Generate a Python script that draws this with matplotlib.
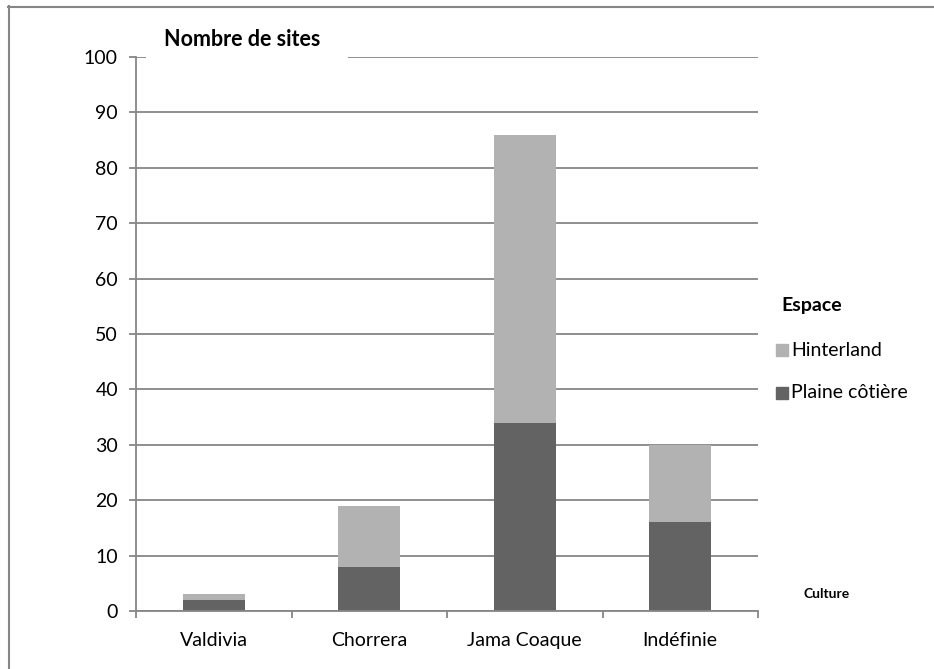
import matplotlib.pyplot as plt
from matplotlib.lines import Line2D
from matplotlib.patches import Rectangle

categories = ['Valdivia', 'Chorrera', 'Jama Coaque', 'Indéfinie']
plaine = [2, 8, 34, 16]
hinterland = [1, 11, 52, 14]
series_names = ['Hinterland', 'Plaine côtière']
y_ticks = list(range(0, 101, 10))

GRID = '#868686'
DARK = '#636363'
LIGHT = '#b2b2b2'

plt.rcParams['font.family'] = ['Lato', 'DejaVu Sans']

W, H = 934, 669
fig = plt.figure(figsize=(W / 100, H / 100), dpi=100)

# axes placement in pixels: left 136, right 758, top 57, bottom 611
ax = fig.add_axes([136 / W, 1 - 611 / H, (758 - 136) / W, (611 - 57) / H])

x = range(len(categories))
ax.bar(x, plaine, width=0.4, color=DARK, zorder=3)
ax.bar(x, hinterland, width=0.4, bottom=plaine, color=LIGHT, zorder=3)

ax.set_xlim(-0.5, len(categories) - 0.5)
ax.set_ylim(0, 100)
ax.set_yticks(y_ticks)
ax.yaxis.grid(True, color=GRID, linewidth=1.3, zorder=0)

ax.set_xticks(list(x))
ax.set_xticklabels(categories, fontsize=14)
ax.set_xticks([i - 0.5 for i in range(len(categories) + 1)], minor=True)
ax.tick_params(axis='x', which='major', length=0, pad=15)
ax.tick_params(axis='x', which='minor', length=5, width=1.3, color=GRID, direction='out')
ax.tick_params(axis='y', length=5, width=1.3, color=GRID, labelsize=14, pad=8)

for side in ['top', 'right']:
    ax.spines[side].set_visible(False)
for side in ['left', 'bottom']:
    ax.spines[side].set_color(GRID)
    ax.spines[side].set_linewidth(1.3)
    ax.spines[side].set_zorder(4)

# white block behind the title, hiding part of the top gridline
fig.add_artist(Rectangle((146 / W, 1 - 64 / H), (348 - 146) / W, 44 / H,
                         facecolor='white', edgecolor='none',
                         transform=fig.transFigure, zorder=5))
fig.text(164 / W, 1 - 40 / H, 'Nombre de sites', fontsize=15.5, fontweight='bold',
         ha='left', va='center', zorder=6)

# axis name at the lower right
fig.text(804 / W, 1 - 594 / H, 'Culture', fontsize=10, fontweight='bold',
         ha='left', va='center')

# legend
fig.text(781 / W, 1 - 306 / H, 'Espace', fontsize=14, fontweight='bold',
         ha='left', va='center')
for i, (name, c) in enumerate(zip(series_names, (LIGHT, DARK))):
    yy = 1 - (350 + 43 * i) / H
    fig.add_artist(Line2D([782 / W], [yy], marker='s', linestyle='none', markersize=8,
                          markerfacecolor=c, markeredgecolor=c,
                          transform=fig.transFigure))
    fig.text(791 / W, yy, name, fontsize=14, ha='left', va='center')

# outer chart frame (left and top edges visible)
fig.add_artist(Line2D([9 / W, 9 / W], [0, 1 - 6 / H], color=GRID, linewidth=1.5,
                      transform=fig.transFigure))
fig.add_artist(Line2D([8 / W, 1], [1 - 7 / H, 1 - 7 / H], color=GRID, linewidth=1.5,
                      transform=fig.transFigure))

fig.savefig('out.png', dpi=100)
